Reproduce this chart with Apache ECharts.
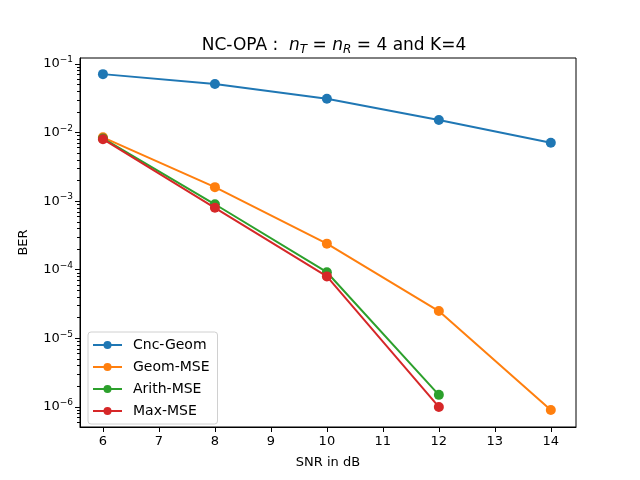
<!DOCTYPE html>
<html lang="en">
<head>
    <meta charset="utf-8">
    <title>NC-OPA BER</title>
    <style>
        html, body { margin: 0; padding: 0; background: #fff; }
        #main { width: 640px; height: 480px; }
    </style>
</head>
<body>
    <div id="main"></div>
    <script src="https://cdn.jsdelivr.net/npm/echarts@6/dist/echarts.min.js"></script>
    <script>
    // SNR points (dB)
    var snr = [6, 8, 10, 12, 14];
    // BER per scheme
    var cncGeom  = [0.071, 0.051, 0.031, 0.0152, 0.0071];
    var geomMse  = [0.0085, 0.0016, 0.00024, 0.000025, 0.0000009];
    var arithMse = [0.0082, 0.0009, 0.000092, 0.0000015];
    var maxMse   = [0.0080, 0.0008, 0.000080, 0.000001];
    var seriesNames = ['Cnc-Geom', 'Geom-MSE', 'Arith-MSE', 'Max-MSE'];
    var colors = ['#1f77b4', '#ff7f0e', '#2ca02c', '#d62728'];

    // tick labels
    var xTicks = [6, 7, 8, 9, 10, 11, 12, 13, 14];
    var yMajor = [1e-6, 1e-5, 1e-4, 1e-3, 1e-2, 1e-1];
    var yMinorMult = [2, 3, 4, 5, 6, 7, 8, 9];
    var yMinorDecades = [1e-7, 1e-6, 1e-5, 1e-4, 1e-3, 1e-2, 1e-1];

    var yMin = 5.1e-7, yMax = 0.122;

    var yMinor = [];
    yMinorDecades.forEach(function (d) {
        yMinorMult.forEach(function (m) {
            var v = d * m;
            if (v > yMin && v < yMax) yMinor.push(v);
        });
    });

    function pairs(ys) {
        return ys.map(function (y, i) { return [snr[i], y]; });
    }

    var font = 'DejaVu Sans';
    var chart = echarts.init(document.getElementById('main'), null, { renderer: 'canvas' });

    var series = [cncGeom, geomMse, arithMse, maxMse].map(function (ys, i) {
        return {
            name: seriesNames[i],
            type: 'line',
            data: pairs(ys),
            symbol: 'circle',
            symbolSize: 10,
            showSymbol: true,
            color: colors[i],
            lineStyle: { width: 2, color: colors[i] },
            itemStyle: { color: colors[i] },
            emphasis: { disabled: true },
            z: 3 + i
        };
    });

    var option = {
        animation: false,
        backgroundColor: '#fff',
        textStyle: { fontFamily: font },
        title: {
            text: 'NC-OPA :  {i|n}{sub|T} = {i|n}{sub|R} = 4 and K=4',
            left: 329,
            textAlign: 'center',
            top: 31,
            textStyle: {
                fontFamily: font,
                fontSize: 17,
                fontWeight: 'normal',
                color: '#000',
                rich: {
                    i: { fontFamily: font, fontSize: 17, fontStyle: 'italic', color: '#000' },
                    sub: { fontFamily: font, fontSize: 12, fontStyle: 'italic', color: '#000', verticalAlign: 'bottom', padding: [8, 0, 0, 0] }
                }
            }
        },
        legend: {
            data: seriesNames,
            orient: 'vertical',
            left: 88,
            top: 332,
            itemWidth: 29,
            itemHeight: 10,
            itemGap: 8,
            padding: [6, 8, 6, 4],
            borderColor: '#d0d0d0',
            borderWidth: 1,
            borderRadius: 3,
            backgroundColor: 'rgba(255,255,255,0.8)',
            textStyle: { fontFamily: font, fontSize: 14, color: '#000', padding: [0, 0, 0, 6] },
            selectedMode: false
        },
        grid: {
            left: 80, right: 64, top: 58, bottom: 53,
            show: true,
            borderColor: '#000',
            borderWidth: 1,
            backgroundColor: 'transparent'
        },
        xAxis: {
            type: 'value',
            min: 5.59,
            max: 14.45,
            name: 'SNR in dB',
            nameLocation: 'middle',
            nameGap: 29,
            nameTextStyle: { fontFamily: font, fontSize: 13, color: '#000' },
            axisLine: { show: true, lineStyle: { color: '#000', width: 1 } },
            axisTick: { show: true, customValues: xTicks, length: 5, lineStyle: { color: '#000' } },
            axisLabel: { customValues: xTicks, fontFamily: font, fontSize: 13, color: '#000', margin: 8 },
            splitLine: { show: false }
        },
        yAxis: [{
            type: 'log',
            logBase: 10,
            min: yMin,
            max: yMax,
            name: 'BER',
            nameLocation: 'middle',
            nameGap: 50,
            nameRotate: 90,
            nameTextStyle: { fontFamily: font, fontSize: 13, color: '#000' },
            axisLine: { show: true, lineStyle: { color: '#000', width: 1 } },
            axisTick: { show: true, customValues: yMajor, length: 5, lineStyle: { color: '#000' } },
            axisLabel: {
                customValues: yMajor,
                fontFamily: font,
                fontSize: 13,
                color: '#000',
                margin: 7,
                formatter: function (v) {
                    var e = Math.round(Math.log10(v));
                    return '10{sup|\u2212' + Math.abs(e) + '}';
                },
                rich: {
                    sup: { fontFamily: font, fontSize: 9, color: '#000', verticalAlign: 'top', padding: [0, 0, 8, 0] }
                }
            },
            splitLine: { show: false }
        }, {
            type: 'log',
            logBase: 10,
            min: yMin,
            max: yMax,
            position: 'left',
            axisLine: { show: false },
            axisTick: { show: true, customValues: yMinor, length: 3, lineStyle: { color: '#000' } },
            axisLabel: { show: false },
            splitLine: { show: false }
        }],
        series: series
    };

    chart.setOption(option);
    </script>
</body>
</html>
